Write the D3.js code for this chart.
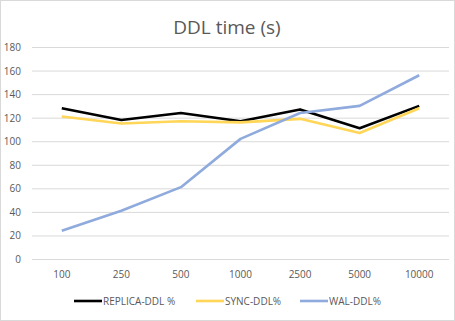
<!DOCTYPE html>
<html>
<head>
<meta charset="utf-8">
<script src="https://cdn.jsdelivr.net/npm/d3@7"></script>
<style>
  body { margin: 0; background: #fff; }
  svg { display: block; font-family: "Open Sans", "Noto Sans", sans-serif; }
</style>
</head>
<body>
<div id="chart"></div>
<script>
const categories = ['100', '250', '500', '1000', '2500', '5000', '10000'];
const replicaDdl = [128, 118, 124, 117, 127, 111, 130];
const syncDdl = [121, 115, 117, 116, 119, 107, 128];
const walDdl = [24, 41, 61, 102, 124, 130, 156];
const yTicks = [0, 20, 40, 60, 80, 100, 120, 140, 160, 180];

const series = [
  {name: 'REPLICA-DDL %', values: replicaDdl, color: '#000000'},
  {name: 'SYNC-DDL%', values: syncDdl, color: '#ffd657'},
  {name: 'WAL-DDL%', values: walDdl, color: '#8faadc'}
];

const width = 455, height = 321;
const svg = d3.select('#chart').append('svg').attr('width', width).attr('height', height);

// outer chart frame
svg.append('rect').attr('x', 0.5).attr('y', 0.5).attr('width', width - 1).attr('height', height - 1)
  .attr('fill', '#fff').attr('stroke', '#d9d9d9');

svg.append('text').attr('x', 227).attr('y', 34).attr('text-anchor', 'middle')
  .attr('font-size', 19).attr('fill', '#595959').text('DDL time (s)');

const x = d3.scalePoint().domain(categories).range([32, 449]).padding(0.5);
const y = d3.scaleLinear().domain([0, 180]).range([259, 47]);

// gridlines
const gy = svg.append('g').attr('transform', 'translate(32,0)')
  .call(d3.axisRight(y).tickValues(yTicks).tickSize(417).tickFormat(''));
gy.select('.domain').remove();
gy.selectAll('line').attr('stroke', '#d9d9d9');

yTicks.forEach(t => {
  svg.append('text').attr('x', 21).attr('y', y(t) + 4).attr('text-anchor', 'end')
    .attr('font-size', 10).attr('fill', '#595959').text(t);
});

categories.forEach(c => {
  svg.append('text').attr('x', x(c)).attr('y', 278).attr('text-anchor', 'middle')
    .attr('font-size', 10).attr('fill', '#595959').text(c);
});

const line = d3.line().x((d, i) => x(categories[i])).y(d => y(d));
series.forEach(s => {
  svg.append('path').attr('d', line(s.values)).attr('fill', 'none')
    .attr('stroke', s.color).attr('stroke-width', 2.6).attr('stroke-linejoin', 'round');
});

// legend
const legendX = [74, 196, 300];
series.forEach((s, i) => {
  const g = svg.append('g').attr('transform', `translate(${legendX[i]},301)`);
  g.append('line').attr('x1', 0).attr('x2', 28).attr('stroke', s.color).attr('stroke-width', 2.6);
  g.append('text').attr('x', 29).attr('y', 4).attr('font-size', 10).attr('fill', '#595959').text(s.name);
});
</script>
</body>
</html>
